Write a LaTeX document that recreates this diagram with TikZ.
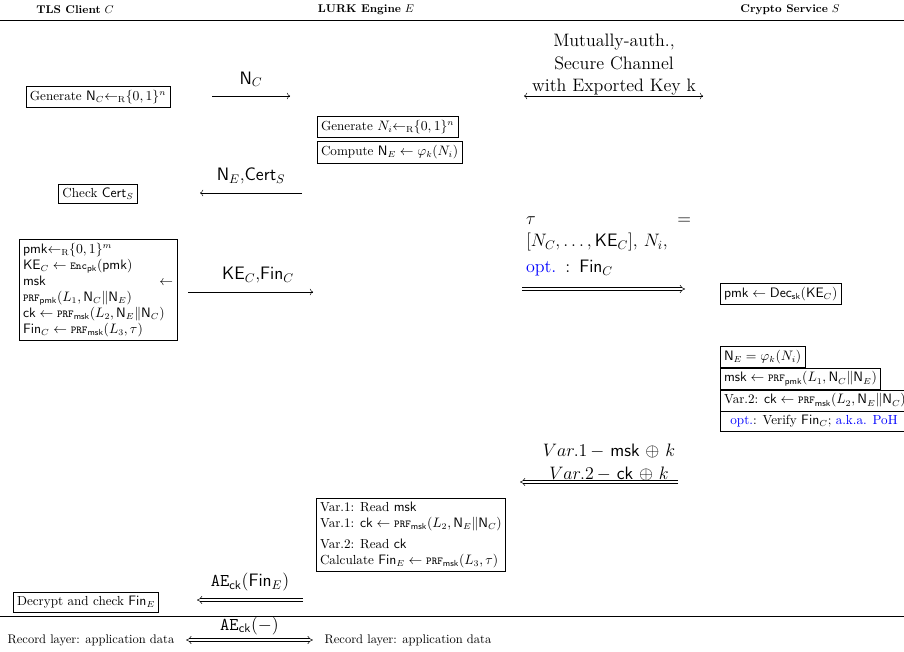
\documentclass[tikz,border=0pt]{standalone}
\usepackage{tikz}
\usetikzlibrary{arrows.meta, positioning}
\usepackage{amsmath}
\usepackage{amssymb}
\usepackage{xcolor}

\newcommand{\prfop}{\text{\fontsize{8.5}{10}\selectfont\ttfamily PRF}}
\newcommand{\encop}{\text{\fontsize{8.5}{10}\selectfont\ttfamily Enc}}
\newcommand{\getsr}{{\leftarrow_{\mathrm{R}}}}

\begin{document}
\begin{tikzpicture}[x=0.8pt, y=-0.8pt,
        box/.style={draw, inner sep=3pt, anchor=north west, font=\fontsize{10.5}{12.8}\selectfont},
        msg/.style={->},
        dmsg/.style={double, double distance=1.8pt, -{Implies}},
        lbl/.style={above=6pt, font=\Large, inner sep=1pt}]
        \useasboundingbox (0,0) rectangle (904,652);

        % Parties
        \node (hc) at (75,10) {\small\textbf{TLS Client} $C$};
        \node (he) at (366,10) {\small\textbf{LURK Engine} $E$};
        \node (hs) at (790,10) {\small\textbf{Crypto Service} $S$};
        \draw (0,20) -- (904,20);

        % Channel between engine and service
        \node[align=center, font=\Large] (sc) at (614,65) {Mutually-auth.,\\Secure Channel\\with Exported Key k};
        \coordinate (sc-l) at (524,96);
        \coordinate (sc-r) at (703,96);
        \draw[<->] (sc-l) -- (sc-r);

        % Client nonce
        \node[box, anchor=center] (gnc) at (98,97) {Generate $\mathsf{N}_C\getsr\{0,1\}^n$};
        \coordinate (nc-l) at (212,96);
        \coordinate (nc-r) at (290,96);
        \draw[msg] (nc-l) -- node[lbl] (nc) {$\mathsf{N}_C$} (nc-r);

        % Engine nonce
        \node[box] (gni) at (317,116) {Generate $N_i\getsr\{0,1\}^n$};
        \node[box, below right=3pt and 0pt of gni.south west] (cne) {Compute $\mathsf{N}_E \leftarrow \varphi_k(N_i)$};

        % Certificate
        \node[box, anchor=center] (chk) at (98,194) {Check $\mathsf{Cert}_S$};
        \coordinate (ne-r) at (302,193);
        \coordinate (ne-l) at (200,193);
        \draw[msg] (ne-r) -- node[lbl] (ne) {$\mathsf{N}_E$,$\mathsf{Cert}_S$} (ne-l);

        % Client key exchange
        \node[box, text width=120pt, align=justify] (cke) at (19,239) {$\mathsf{pmk}\getsr\{0,1\}^m$\\
            $\mathsf{KE}_C \leftarrow \encop_{\mathsf{pk}}(\mathsf{pmk})$\\
            $\mathsf{msk}$\hfill$\leftarrow$\\
            $\prfop_{\mathsf{pmk}}(L_1,\mathsf{N}_C\|\mathsf{N}_E)$\\
            $\mathsf{ck} \leftarrow \prfop_{\mathsf{msk}}(L_2,\mathsf{N}_E\|\mathsf{N}_C)$\\
            $\mathsf{Fin}_C \leftarrow \prfop_{\mathsf{msk}}(L_3,\tau)$};
        \coordinate (ke-l) at (188,292);
        \coordinate (ke-r) at (313,292);
        \draw[msg] (ke-l) -- node[lbl, xshift=6pt] (ke) {$\mathsf{KE}_C$,$\mathsf{Fin}_C$} (ke-r);

        % Engine to service
        \coordinate (tau-l) at (522,289);
        \coordinate (tau-r) at (685,289);
        \draw[dmsg] (tau-l) -- node[lbl, above=9pt, xshift=4pt, text width=132pt, align=left] (tau) {$\tau$\hfill$=$\\
            $[N_C,\ldots,\mathsf{KE}_C]$, $N_i$,\\[3pt]
            \textcolor{blue}{opt.} : $\mathsf{Fin}_C$} (tau-r);

        % Crypto service
        \node[box] (dec) at (720,283) {$\mathsf{pmk} \leftarrow \mathsf{Dec}_{\mathsf{sk}}(\mathsf{KE}_C)$};
        \node[box] (sne) at (720,346) {$\mathsf{N}_E = \varphi_k(N_i)$};
        \node[box, below right=0pt and 0pt of sne.south west] (smsk) {$\mathsf{msk} \leftarrow \prfop_{\mathsf{pmk}}(L_1,\mathsf{N}_C\|\mathsf{N}_E)$};
        \node[box, below right=0pt and 0pt of smsk.south west] (sck) {Var.2: $\mathsf{ck} \leftarrow \prfop_{\mathsf{msk}}(L_2,\mathsf{N}_E\|\mathsf{N}_C)$};
        \node[box, minimum width=150pt, below right=0pt and 0pt of sck.south west] (sfin) {\textcolor{blue}{opt.}: Verify $\mathsf{Fin}_C$; \textcolor{blue}{a.k.a. PoH}};

        % Service to engine
        \coordinate (var-r) at (678,482);
        \coordinate (var-l) at (520,482);
        \draw[dmsg] (var-r) -- node[lbl, above=0pt, xshift=8pt, align=center] (var) {$Var.1\,-$ $\mathsf{msk}$ $\oplus$ $k$\\$Var.2\,-$ $\mathsf{ck}$ $\oplus$ $k$} (var-l);

        % Engine finished
        \node[box, align=left] (efin) at (316,498) {Var.1: Read $\mathsf{msk}$\\
            Var.1: $\mathsf{ck} \leftarrow \prfop_{\mathsf{msk}}(L_2,\mathsf{N}_E\|\mathsf{N}_C)$\\[4pt]
            Var.2: Read $\mathsf{ck}$\\
            Calculate $\mathsf{Fin}_E \leftarrow \prfop_{\mathsf{msk}}(L_3,\tau)$};
        \coordinate (ae-r) at (303,600);
        \coordinate (ae-l) at (197,600);
        \draw[dmsg] (ae-r) -- node[lbl] (ae) {$\mathtt{AE}_{\mathsf{ck}}(\mathsf{Fin}_E)$} (ae-l);
        \node[box, anchor=center] (dfin) at (86,602) {Decrypt and check $\mathsf{Fin}_E$};

        % Record layer
        \draw (0,616) -- (904,616);
        \node (recl) at (91,640) {Record layer: application data};
        \node (recr) at (408,640) {Record layer: application data};
        \draw[double, double distance=1.8pt, {Implies}-{Implies}, shorten <=6pt, shorten >=6pt] (recl) -- node[lbl, above=3pt] (app) {$\mathtt{AE}_{\mathsf{ck}}(-)$} (recr);
    \end{tikzpicture}
\end{document}
